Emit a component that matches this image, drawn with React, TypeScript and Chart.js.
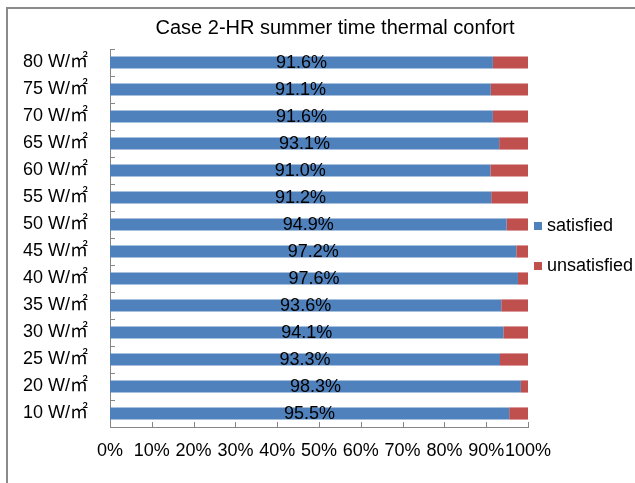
import React, { useEffect, useRef } from "react";
import { Chart, registerables } from "chart.js";

Chart.register(...registerables);

const TITLE = "Case 2-HR summer time thermal confort";
const categories = [
  "80 W/㎡", "75 W/㎡", "70 W/㎡", "65 W/㎡", "60 W/㎡", "55 W/㎡", "50 W/㎡",
  "45 W/㎡", "40 W/㎡", "35 W/㎡", "30 W/㎡", "25 W/㎡", "20 W/㎡", "10 W/㎡",
];
const satisfied = [91.6, 91.1, 91.6, 93.1, 91.0, 91.2, 94.9, 97.2, 97.6, 93.6, 94.1, 93.3, 98.3, 95.5];
const unsatisfied = [8.4, 8.9, 8.4, 6.9, 9.0, 8.8, 5.1, 2.8, 2.4, 6.4, 5.9, 6.7, 1.7, 4.5];
const seriesNames = ["satisfied", "unsatisfied"];
const xTicks = [0, 10, 20, 30, 40, 50, 60, 70, 80, 90, 100];

const FONT = "'Liberation Sans', Arial, 'Noto Sans CJK JP', sans-serif";
const BLUE = "#4F81BD";
const RED = "#C0504D";
const AXIS = "#868686";

const decorPlugin = {
  id: "decor",
  afterDatasetsDraw(chart: any) {
    const ctx = chart.ctx;
    const area = chart.chartArea;
    const xs = chart.scales.x;
    ctx.save();
    // tick marks
    ctx.strokeStyle = AXIS;
    ctx.lineWidth = 1;
    ctx.beginPath();
    xTicks.forEach((v) => {
      const px = Math.round(xs.getPixelForValue(v)) + 0.5;
      ctx.moveTo(px, area.bottom);
      ctx.lineTo(px, area.bottom - 5);
    });
    const n = categories.length;
    for (let i = 0; i <= n; i++) {
      const py = Math.round(area.top + ((area.bottom - area.top) * i) / n) + 0.5;
      ctx.moveTo(area.left, py);
      ctx.lineTo(area.left + 5, py);
    }
    ctx.stroke();
    // data labels
    ctx.fillStyle = "#000";
    ctx.font = `18px ${FONT}`;
    ctx.textAlign = "center";
    ctx.textBaseline = "middle";
    const meta = chart.getDatasetMeta(0);
    meta.data.forEach((bar: any, i: number) => {
      const cx = (xs.getPixelForValue(0) + xs.getPixelForValue(satisfied[i])) / 2;
      ctx.fillText(satisfied[i].toFixed(1) + "%", cx, bar.y + 1);
    });
    // title
    ctx.font = `20px ${FONT}`;
    ctx.fillText(TITLE, 335, 28.5);
    // legend
    const colors = [BLUE, RED];
    const lx = area.right + 6;
    const ly = [226, 266];
    ctx.font = `18px ${FONT}`;
    ctx.textAlign = "left";
    seriesNames.forEach((name, i) => {
      ctx.fillStyle = colors[i];
      ctx.fillRect(lx, ly[i] - 4, 8, 8);
      ctx.fillStyle = "#000";
      ctx.fillText(name, lx + 13, ly[i]);
    });
    ctx.restore();
  },
};

export default function App() {
  const ref = useRef<HTMLCanvasElement>(null);
  useEffect(() => {
    if (!ref.current) return;
    const chart = new Chart(ref.current, {
      type: "bar",
      data: {
        labels: categories,
        datasets: [
          { label: seriesNames[0], data: satisfied, backgroundColor: BLUE, barPercentage: 0.45, categoryPercentage: 1 },
          { label: seriesNames[1], data: unsatisfied, backgroundColor: RED, barPercentage: 0.45, categoryPercentage: 1 },
        ],
      },
      options: {
        indexAxis: "y",
        animation: false,
        responsive: false,
        layout: { padding: { top: 49, right: 107, left: 0, bottom: 0 } },
        plugins: {
          legend: { display: false },
          title: { display: false },
          tooltip: { enabled: false },
        },
        scales: {
          x: {
            stacked: true,
            min: 0,
            max: 100,
            grid: { display: false },
            border: { display: true, color: AXIS, width: 1 },
            ticks: {
              stepSize: 10,
              padding: 5,
              color: "#000",
              font: { family: FONT, size: 18 },
              maxRotation: 0,
              autoSkip: false,
              callback: (v: any) => v + "%",
            },
            afterFit: (s: any) => { s.height = 56; },
          },
          y: {
            stacked: true,
            grid: { display: false },
            border: { display: true, color: AXIS, width: 1 },
            ticks: {
              padding: 14,
              color: "#000",
              font: { family: FONT, size: 18 },
              autoSkip: false,
            },
            afterFit: (s: any) => { s.width = 110; },
          },
        },
      },
      plugins: [decorPlugin],
    });
    return () => chart.destroy();
  }, []);
  return (
    <div style={{ position: "fixed", left: 0, top: 0, width: 635, height: 483, background: "#fff", overflow: "hidden" }}>
      <canvas ref={ref} width={635} height={483} style={{ position: "absolute", left: 0, top: 0 }} />
      <div style={{ position: "absolute", left: 6, top: 7, width: 700, height: 600, border: "2px solid #8a8a8a", pointerEvents: "none" }} />
    </div>
  );
}
